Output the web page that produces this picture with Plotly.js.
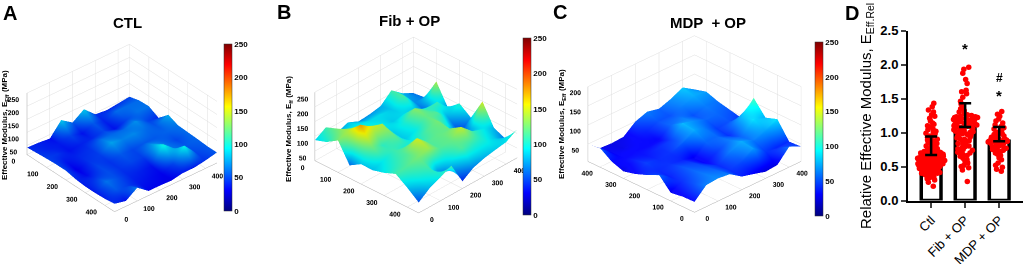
<!DOCTYPE html>
<html><head><meta charset="utf-8">
<script src="https://cdn.plot.ly/plotly-3.0.1.min.js"></script>
<style>html,body{margin:0;padding:0;background:#fff}#c{width:1024px;height:264px}</style>
</head><body><div id="c"></div>
<script>
const gridPos=[0,50,100,150,200,250,300,350,400,450];
const gridPosRev=[450,400,350,300,250,200,150,100,50,0];
const zA=[
[42,40,35,85,55,85,45,40,45,50],
[45,40,38,50,36,55,40,60,60,60],
[48,45,36,40,42,50,36,50,62,62],
[50,36,42,45,62,60,60,70,50,42],
[50,30,45,48,75,66,68,60,55,78],
[42,35,50,45,55,50,55,55,58,62],
[38,48,52,45,50,48,75,60,50,60],
[38,62,52,42,40,36,100,62,55,58],
[40,55,48,38,35,32,50,98,50,55],
[45,35,65,32,32,30,38,38,45,55]];
const zB=[
[87,110,70,85,68,71,78,111,80,60],
[100,125,100,95,90,90,85,115,70,65],
[125,140,135,105,95,85,90,85,60,139],
[60,178,150,140,85,100,130,105,110,70],
[84,125,105,120,85,95,120,115,75,104],
[83,95,110,100,100,115,125,90,45,75],
[94,105,115,150,115,120,120,50,80,150],
[110,115,125,135,115,120,145,110,95,80],
[83,100,110,60,90,115,105,100,85,62],
[52,80,97,115,41,66,78,85,91,113]];
const zC=[
[50,25,23,25,50,61,54,65,80,60],
[55,28,25,30,38,50,50,62,72,69],
[34,30,32,30,30,55,60,50,60,58],
[23,38,35,40,45,75,65,55,55,51],
[31,45,40,42,55,72,60,45,50,44],
[43,40,42,38,28,55,55,42,75,112],
[58,38,50,45,30,45,60,55,85,75],
[26,42,55,50,40,60,72,60,70,86],
[31,50,60,55,42,50,68,45,40,42],
[32,61,64,60,39,31,22,25,58,44]];
const groups=['Ctl','Fib + OP','MDP + OP'];
const means=[0.67,1.08,0.87];
const errs=[0.27,0.35,0.21];
const ctlVals=[0.21,0.27,0.30,0.32,0.34,0.35,0.36,0.37,0.38,0.38,0.39,0.39,0.40,0.40,0.41,0.41,0.42,0.42,0.43,0.43,0.44,0.44,0.45,0.45,0.46,0.46,0.46,0.47,0.47,0.47,0.48,0.48,0.48,0.49,0.49,0.49,0.50,0.50,0.50,0.50,0.51,0.51,0.51,0.52,0.52,0.52,0.52,0.53,0.53,0.53,0.53,0.54,0.54,0.54,0.55,0.55,0.55,0.55,0.56,0.56,0.56,0.56,0.57,0.57,0.57,0.57,0.58,0.58,0.58,0.58,0.59,0.59,0.59,0.59,0.60,0.60,0.60,0.60,0.61,0.61,0.61,0.61,0.62,0.62,0.62,0.62,0.63,0.63,0.63,0.63,0.64,0.64,0.64,0.65,0.65,0.65,0.66,0.66,0.66,0.67,0.67,0.67,0.68,0.68,0.68,0.69,0.69,0.70,0.70,0.70,0.71,0.71,0.72,0.72,0.73,0.73,0.74,0.74,0.75,0.76,0.76,0.77,0.78,0.79,0.80,0.80,0.81,0.82,0.83,0.84,0.85,0.86,0.87,0.88,0.89,0.90,0.91,0.92,0.93,0.95,0.96,0.98,0.99,1.01,1.02,1.04,1.05,1.08,1.10,1.12,1.14,1.17,1.21,1.24,1.26,1.30,1.33,1.38,1.43];
const fibVals=[0.28,0.45,0.48,0.50,0.52,0.55,0.58,0.60,0.62,0.65,0.66,0.68,0.70,0.71,0.72,0.74,0.75,0.76,0.78,0.79,0.80,0.82,0.83,0.84,0.86,0.87,0.88,0.90,0.91,0.92,0.93,0.95,0.96,0.97,0.98,0.99,1.00,1.00,1.01,1.02,1.02,1.03,1.04,1.04,1.05,1.06,1.06,1.07,1.08,1.08,1.09,1.10,1.10,1.11,1.12,1.12,1.13,1.14,1.14,1.15,1.16,1.16,1.17,1.18,1.18,1.19,1.20,1.20,1.21,1.21,1.22,1.22,1.22,1.23,1.23,1.24,1.25,1.26,1.28,1.30,1.32,1.35,1.38,1.42,1.46,1.52,1.57,1.60,1.62,1.72,1.78,1.87,1.93,1.96];
const mdpVals=[0.43,0.46,0.49,0.52,0.55,0.60,0.63,0.66,0.68,0.70,0.72,0.73,0.74,0.75,0.76,0.77,0.78,0.79,0.80,0.80,0.81,0.82,0.83,0.84,0.84,0.85,0.85,0.86,0.86,0.86,0.87,0.87,0.87,0.88,0.88,0.88,0.89,0.89,0.89,0.90,0.90,0.91,0.92,0.93,0.94,0.95,0.96,0.97,0.98,1.00,1.01,1.03,1.05,1.07,1.09,1.11,1.14,1.17,1.20,1.24,1.27,1.31];
const F='"Liberation Sans",Arial,sans-serif';
const transpose=m=>m[0].map((_,c)=>m.map(r=>r[c]));

function surf(x,z,scene,bar){return {type:'surface',x:x,y:gridPos,z:transpose(z),scene:scene,
  colorscale:[[0,'#00007f'],[0.125,'#0000ff'],[0.375,'#00ffff'],[0.625,'#ffff00'],[0.875,'#ff0000'],[1,'#7f0000']],
  cmin:0,cmax:250,showscale:true,hoverinfo:'skip',
  lighting:{ambient:0.92,diffuse:0.3,specular:0.05,roughness:0.6,fresnel:0},
  lightposition:{x:-2000,y:-2000,z:6000},
  colorbar:{x:bar[0]/1024,xanchor:'left',xpad:0,ypad:0,thickness:8,thicknessmode:'pixels',
    y:1-bar[1]/264,yanchor:'top',len:(bar[2]-bar[1])/264,lenmode:'fraction',
    tickvals:[0,50,100,150,200,250],ticks:'',outlinewidth:0.5,outlinecolor:'#333',
    tickfont:{family:F,size:8,color:'#000',weight:'bold'}}};}

function axis(vals,range){return {range:range,tickvals:vals,showbackground:false,gridcolor:'#dedede',gridwidth:1,
  showline:true,linecolor:'#aaa',zeroline:false,showspikes:false,ticks:'',title:{text:''},tickangle:0,
  tickfont:{family:F,size:9,color:'#000',weight:'bold'}};}
function scene(dom,eye,xr,zt,zr,a,zasp){return {domain:{x:[dom[0]/1024,dom[1]/1024],y:[1-dom[3]/264,1-dom[2]/264]},
  camera:{eye:{x:eye[0],y:eye[1],z:eye[2]},center:{x:0,y:0,z:0},up:{x:0,y:0,z:1},projection:{type:'orthographic'}},
  aspectmode:'manual',aspectratio:{x:a,y:a,z:a*zasp},
  xaxis:axis([0,100,200,300,400],xr),yaxis:axis([0,100,200,300,400],[0,450]),zaxis:axis(zt,zr),bgcolor:'rgba(0,0,0,0)'};}

const data=[
 surf(gridPos,zA,'scene',[224,44,211]),
 surf(gridPos,zB,'scene2',[523,38,215]),
 surf(gridPosRev,zC,'scene3',[815,42,216]),
 {type:'bar',x:groups,y:means,width:0.58,marker:{color:'#fff',line:{color:'#000',width:3.5}},hoverinfo:'skip',xaxis:'x',yaxis:'y'}
];
[ctlVals,fibVals,mdpVals].forEach((v,k)=>data.push({type:'box',x:v.map(()=>groups[k]),y:v,boxpoints:'all',jitter:1,pointpos:0,width:0.8,
  fillcolor:'rgba(0,0,0,0)',line:{width:0,color:'rgba(0,0,0,0)'},marker:{color:'#ff0000',size:5.5},hoverinfo:'skip',xaxis:'x',yaxis:'y'}));
data.push({type:'scatter',mode:'markers',x:groups,y:means,marker:{size:1,opacity:0},hoverinfo:'skip',xaxis:'x',yaxis:'y',
  error_y:{type:'data',symmetric:false,array:errs,arrayminus:[0,0,0],color:'#000',thickness:2.5,width:6}});

const ann=(t,x,y,s,extra)=>Object.assign({text:t,xref:'paper',yref:'paper',x:x/1024,y:1-y/264,showarrow:false,xanchor:'center',yanchor:'middle',
  font:{family:F,size:s,color:'#000',weight:'bold'}},extra||{});
const layout={width:1024,height:264,margin:{l:0,r:0,t:0,b:0},paper_bgcolor:'#fff',plot_bgcolor:'#fff',showlegend:false,boxmode:'overlay',
 scene:scene([0,244,18,238],[1.03,-0.88,0.91],[0,450],[50,100,150,200,250],[15,250],1.225,0.55),
 scene2:scene([284,548,15,235],[0.90,-0.95,0.82],[0,450],[50,100,150,200,250],[17,250],1.30,0.566),
 scene3:scene([545,844,14,234],[0.91,-0.91,0.70],[450,0],[50,100,150,200],[5,200],1.37,0.565),
 xaxis:{domain:[908/1024,1023/1024],anchor:'y',type:'category',range:[-0.68,2.7],showline:true,linecolor:'#000',linewidth:2,ticks:'outside',ticklen:5,tickwidth:2,tickangle:-45,
   tickfont:{family:F,size:13,color:'#000'},showgrid:false,zeroline:false},
 yaxis:{domain:[1-200.5/264,1-30.5/264],anchor:'x',range:[0,2.5],tickvals:[0,0.5,1,1.5,2,2.5],ticktext:['0.0','0.5','1.0','1.5','2.0','2.5'],showline:true,linecolor:'#000',linewidth:2,ticks:'outside',ticklen:5,tickwidth:2,
   tickfont:{family:F,size:13,color:'#000',weight:'bold'},showgrid:false,zeroline:false},
 annotations:[
  ann('A',10,13,20),ann('B',284,12,20),ann('C',560,12,20),ann('D',852,13,20),
  ann('CTL',127,22,15),ann('Fib + OP',409,20,15),ann('MDP  + OP',708,22,15),
  ann('Effective Modulus, E<sub>Eff</sub> (MPa)',5,125,8,{textangle:-90}),
  ann('Effective Modulus, E<sub>ff</sub> (MPa)',289,129,8,{textangle:-90}),
  ann('Effective Modulus, E<sub>Eff</sub> (MPa)',562,124,8,{textangle:-90}),
  ann('Relative Effective Modulus, E<sub>Eff.Rel</sub>',866,116,15,{textangle:-90,font:{family:F,size:15,color:'#000'}}),
  {text:'*',x:'Fib + OP',y:2.23,xref:'x',yref:'y',showarrow:false,font:{family:F,size:15,color:'#000',weight:'bold'}},
  {text:'*',x:'MDP + OP',y:1.55,xref:'x',yref:'y',showarrow:false,font:{family:F,size:15,color:'#000',weight:'bold'}},
  {text:'#',x:'MDP + OP',y:1.8,xref:'x',yref:'y',showarrow:false,font:{family:F,size:12,color:'#000',weight:'bold'}}
 ]};
Plotly.newPlot('c',data,layout,{displayModeBar:false});
</script></body></html>
